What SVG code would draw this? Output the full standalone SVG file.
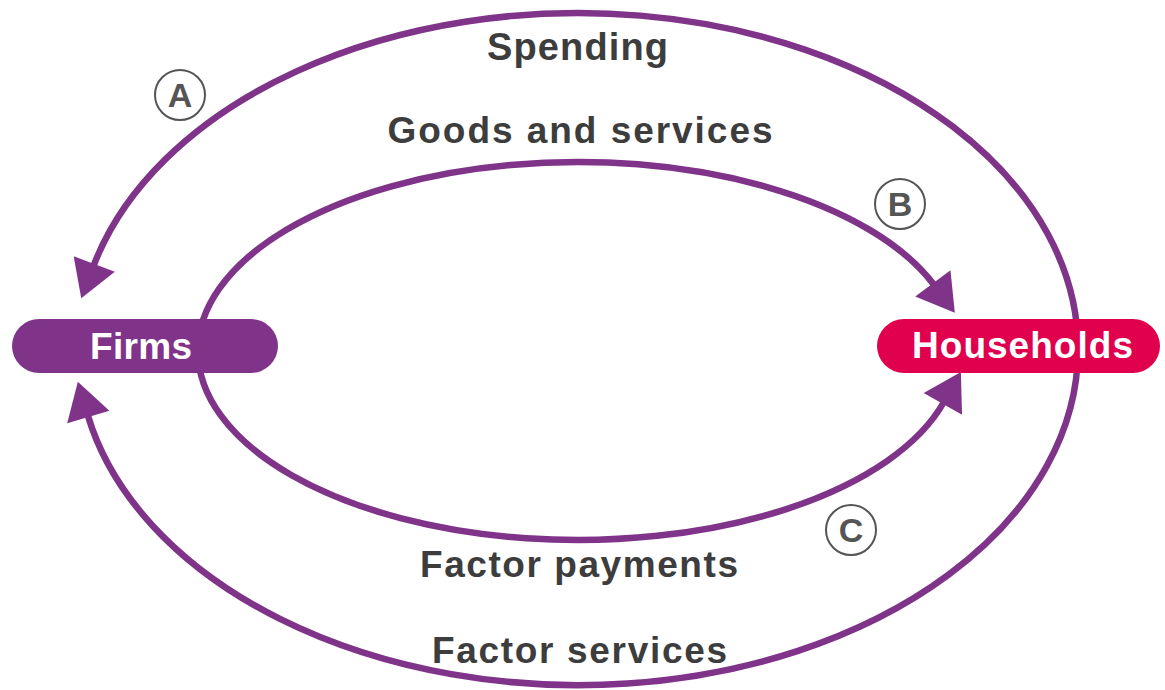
<svg xmlns="http://www.w3.org/2000/svg" width="1165" height="690" viewBox="0 0 1165 690">
<style>
.flow{fill:none;stroke:#7f3489;stroke-width:6.5}
.lbl{font-family:"Liberation Sans",Arial,sans-serif;font-weight:bold;fill:#3d3d3d;text-anchor:middle}
.node{font-family:"Liberation Sans",Arial,sans-serif;font-weight:bold;fill:#ffffff;text-anchor:middle}
.badge circle{fill:#ffffff;stroke:#555555;stroke-width:2}
.badge text{font-family:"Liberation Sans",Arial,sans-serif;font-weight:bold;fill:#555555;font-size:34px;text-anchor:middle}
</style>
<defs>
<marker id="ah" markerUnits="userSpaceOnUse" markerWidth="42" markerHeight="44" refX="2" refY="21" orient="auto" viewBox="0 0 36 42">
<path d="M0,0 L35,21 L0,42 z" fill="#7f3489"/>
</marker>
</defs>
<rect width="1165" height="690" fill="#ffffff"/>
<g id="connectors">
<path class="flow" d="M1078,349 A500,336 0 0 0 93.5,266" marker-end="url(#ah)"/>
<path class="flow" d="M1078,349 A500,336 0 0 1 87.7,415" marker-end="url(#ah)"/>
<path class="flow" d="M198,351 A380,189 0 0 1 934.1,285" marker-end="url(#ah)"/>
<path class="flow" d="M198,351 A380,189 0 0 0 943.9,402" marker-end="url(#ah)"/>
</g>
<g id="labels">
<text class="lbl" x="577.5" y="60" font-size="38" textLength="181" lengthAdjust="spacing">Spending</text>
<text class="lbl" x="580" y="143" font-size="37" textLength="385" lengthAdjust="spacing">Goods and services</text>
<text class="lbl" x="579" y="577" font-size="37" textLength="318" lengthAdjust="spacing">Factor payments</text>
<text class="lbl" x="579.5" y="663" font-size="37" textLength="295" lengthAdjust="spacing">Factor services</text>
</g>
<g id="firms">
<rect x="12" y="319" width="266" height="54" rx="27" fill="#7f3489"/>
<text class="node" x="141" y="359" font-size="37" textLength="102" lengthAdjust="spacing">Firms</text>
</g>
<g id="households">
<rect x="877" y="319" width="283" height="54" rx="27" fill="#e0004d"/>
<text class="node" x="1022.5" y="358" font-size="37" textLength="221" lengthAdjust="spacing">Households</text>
</g>
<g id="badge-a" class="badge">
<circle cx="180" cy="95" r="25"/>
<text x="180" y="107">A</text>
</g>
<g id="badge-b" class="badge">
<circle cx="900" cy="204" r="25"/>
<text x="900" y="216">B</text>
</g>
<g id="badge-c" class="badge">
<circle cx="851" cy="530" r="25"/>
<text x="851" y="542">C</text>
</g>
</svg>
